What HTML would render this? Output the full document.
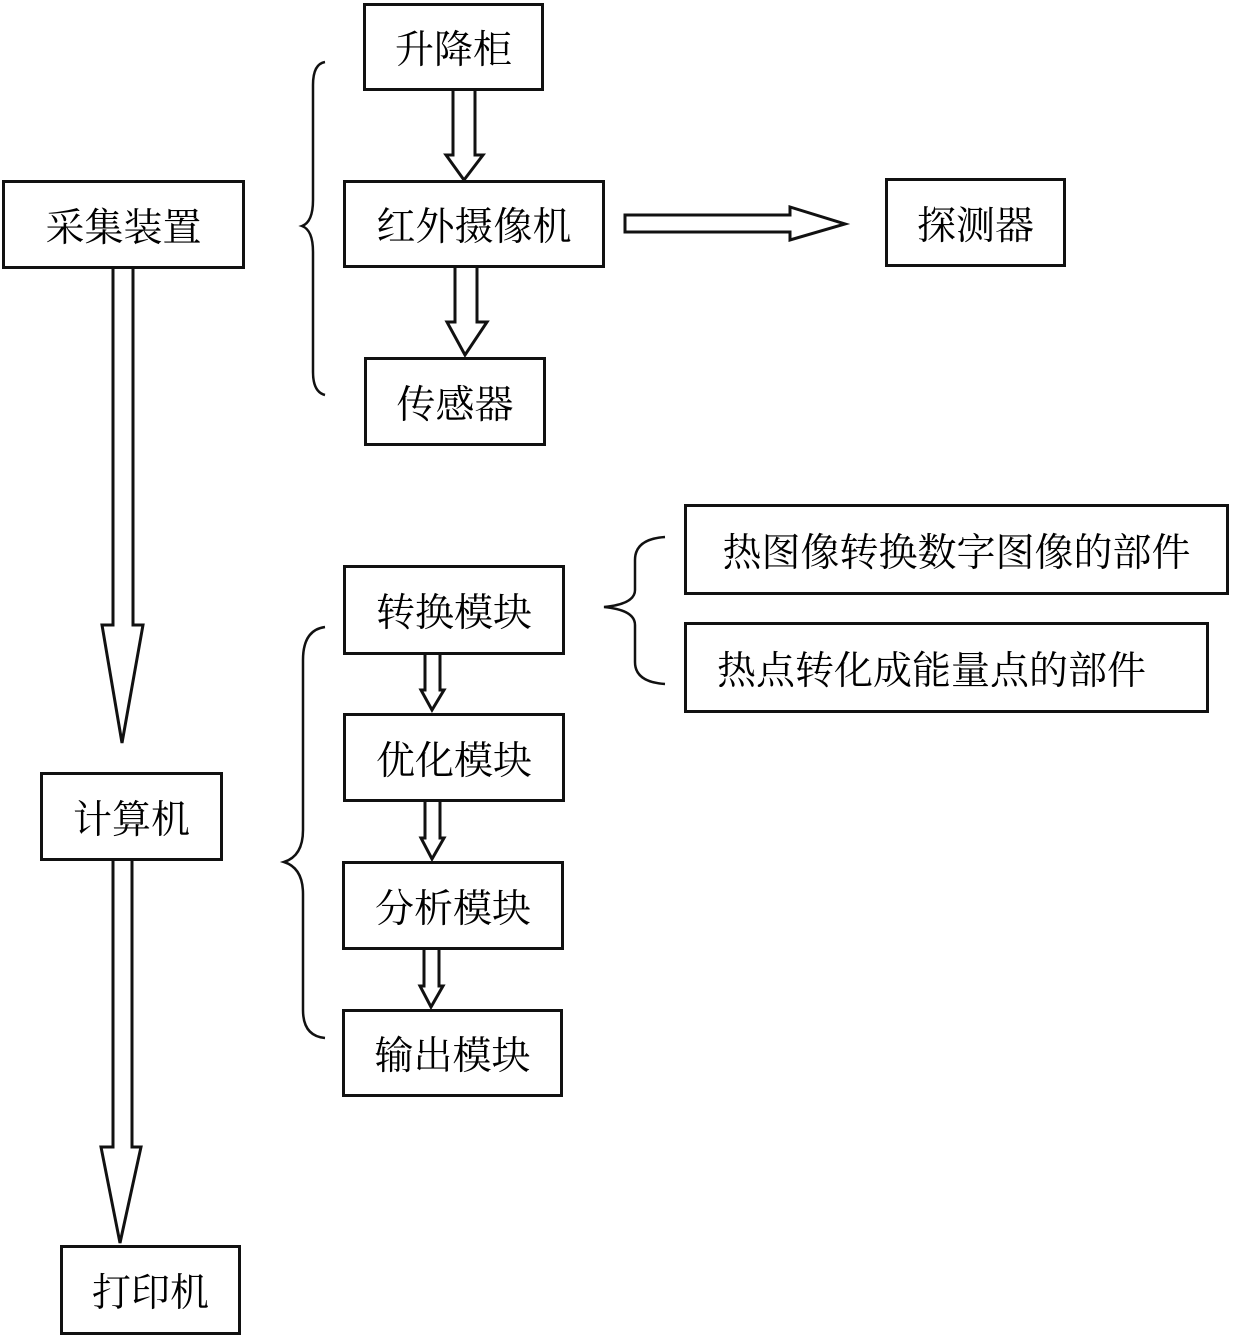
<!DOCTYPE html>
<html><head><meta charset="utf-8"><style>
body{margin:0;background:#fff;}
.b{position:absolute;border:3px solid #111;box-sizing:border-box;display:flex;align-items:center;justify-content:center;font-family:"Liberation Serif","Noto Serif CJK SC","Noto Sans CJK SC",serif;font-size:39px;color:#000;background:#fff;}
</style></head><body>
<div style="position:relative;width:1240px;height:1336px;overflow:hidden">
<svg width="1240" height="1336" style="position:absolute;left:0;top:0" fill="none" stroke="#111" stroke-width="3" stroke-linejoin="miter">
<path d="M113 268 V625 H102 L122 743 L143 625 H133 V268"/>
<path d="M113 860 V1147 H101 L120 1243 L141 1147 H132 V860"/>
<path d="M453 90 V155 H446 L464 180 L483 155 H475 V90"/>
<path d="M455 267 V322 H447 L465 355 L487 322 H477 V267"/>
<path d="M625 215 V232 H790 V240 L845 224 L790 207 V215 Z"/>
<path d="M425 654 V690 H421 L432 710 L444 690 H440 V654"/>
<path d="M425 801 V838 H421 L432 859 L444 838 H440 V801"/>
<path d="M424 949 V986 H420 L431 1007 L443 986 H439 V949"/>
<path d="M325 62 Q313 64 313 85 V200 Q313 222 302 226 Q313 230 313 252 V372 Q313 392 325 395" stroke-width="2.5"/>
<path d="M325 627 Q303 630 303 660 V830 Q303 856 284 862 Q303 868 303 894 V1010 Q303 1036 325 1038" stroke-width="2.5"/>
<path d="M665 537 Q635 539 635 560 V590 Q635 604 604 607 Q635 610 635 625 V662 Q635 682 665 684" stroke-width="2.5"/>
</svg>
<div class="b" style="left:363px;top:3px;width:181px;height:88px">升降柜</div>
<div class="b" style="left:2px;top:180px;width:243px;height:89px">采集装置</div>
<div class="b" style="left:343px;top:180px;width:262px;height:88px">红外摄像机</div>
<div class="b" style="left:885px;top:178px;width:181px;height:89px">探测器</div>
<div class="b" style="left:364px;top:357px;width:182px;height:89px">传感器</div>
<div class="b" style="left:343px;top:565px;width:222px;height:90px">转换模块</div>
<div class="b" style="left:343px;top:713px;width:222px;height:89px">优化模块</div>
<div class="b" style="left:342px;top:861px;width:222px;height:89px">分析模块</div>
<div class="b" style="left:342px;top:1009px;width:221px;height:88px">输出模块</div>
<div class="b" style="left:40px;top:772px;width:183px;height:89px">计算机</div>
<div class="b" style="left:60px;top:1245px;width:181px;height:90px">打印机</div>
<div class="b" style="left:684px;top:504px;width:545px;height:91px">热图像转换数字图像的部件</div>
<div class="b" style="left:684px;top:622px;width:525px;height:91px;justify-content:flex-start;padding-left:30px">热点转化成能量点的部件</div>
</div>
</body></html>
